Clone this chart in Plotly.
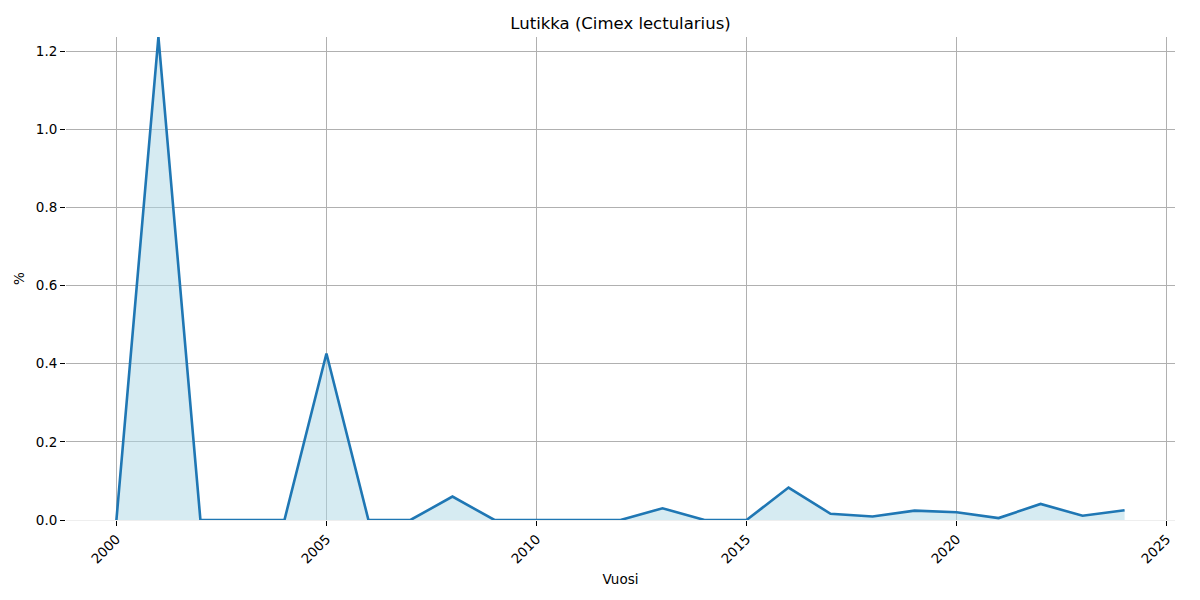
import plotly.graph_objects as go

years = list(range(2000, 2025))
values = [0.0, 1.236, 0.0, 0.0, 0.0, 0.426, 0.0, 0.0, 0.060, 0.0,
          0.0, 0.0, 0.0, 0.030, 0.0, 0.0, 0.083, 0.016, 0.009, 0.024,
          0.020, 0.005, 0.041, 0.011, 0.025]
x_ticks = [2000, 2005, 2010, 2015, 2020, 2025]
y_ticks = [0.0, 0.2, 0.4, 0.6, 0.8, 1.0, 1.2]

fig = go.Figure()
fig.add_trace(go.Scatter(
    x=years, y=values, mode="lines", fill="tozeroy",
    fillcolor="rgba(173,216,230,0.5)",
    line=dict(color="#1f77b4", width=2.6),
    showlegend=False,
))

# page body has an 8px margin; compensate so the chart lands where the reference has it
W, H = 1192, 592
font = "DejaVu Sans, sans-serif"
fig.update_layout(
    width=W, height=H,
    margin=dict(l=58, r=25, t=29, b=80, autoexpand=False),
    paper_bgcolor="white", plot_bgcolor="white",
    font=dict(family=font, size=13.5, color="black"),
    title=dict(text="Lutikka (Cimex lectularius)", xref="paper", x=0.5, xanchor="center",
               y=1 - 15 / H, yanchor="middle", font=dict(size=16.5)),
)
fig.update_xaxes(
    range=[1998.8, 2025.2], tickvals=x_ticks, ticktext=[str(v) for v in x_ticks],
    tickangle=-45, ticks="outside", ticklen=5, tickcolor="black", tickwidth=1,
    showgrid=True, gridcolor="#b0b0b0", gridwidth=1,
    zeroline=False, showline=False, automargin=False,
    title=dict(text="Vuosi", font=dict(size=13.5), standoff=8),
)
fig.update_yaxes(
    range=[0, 1.236], tickvals=y_ticks, ticktext=[f"{v:.1f}" for v in y_ticks],
    ticks="outside", ticklen=5, tickcolor="black", tickwidth=1,
    showgrid=True, gridcolor="#b0b0b0", gridwidth=1,
    zeroline=True, zerolinecolor="#eeeeee", zerolinewidth=1, showline=False,
    automargin=False,
    title=dict(text="%", font=dict(size=13.5), standoff=8),
)

fig.write_html("out.html")
